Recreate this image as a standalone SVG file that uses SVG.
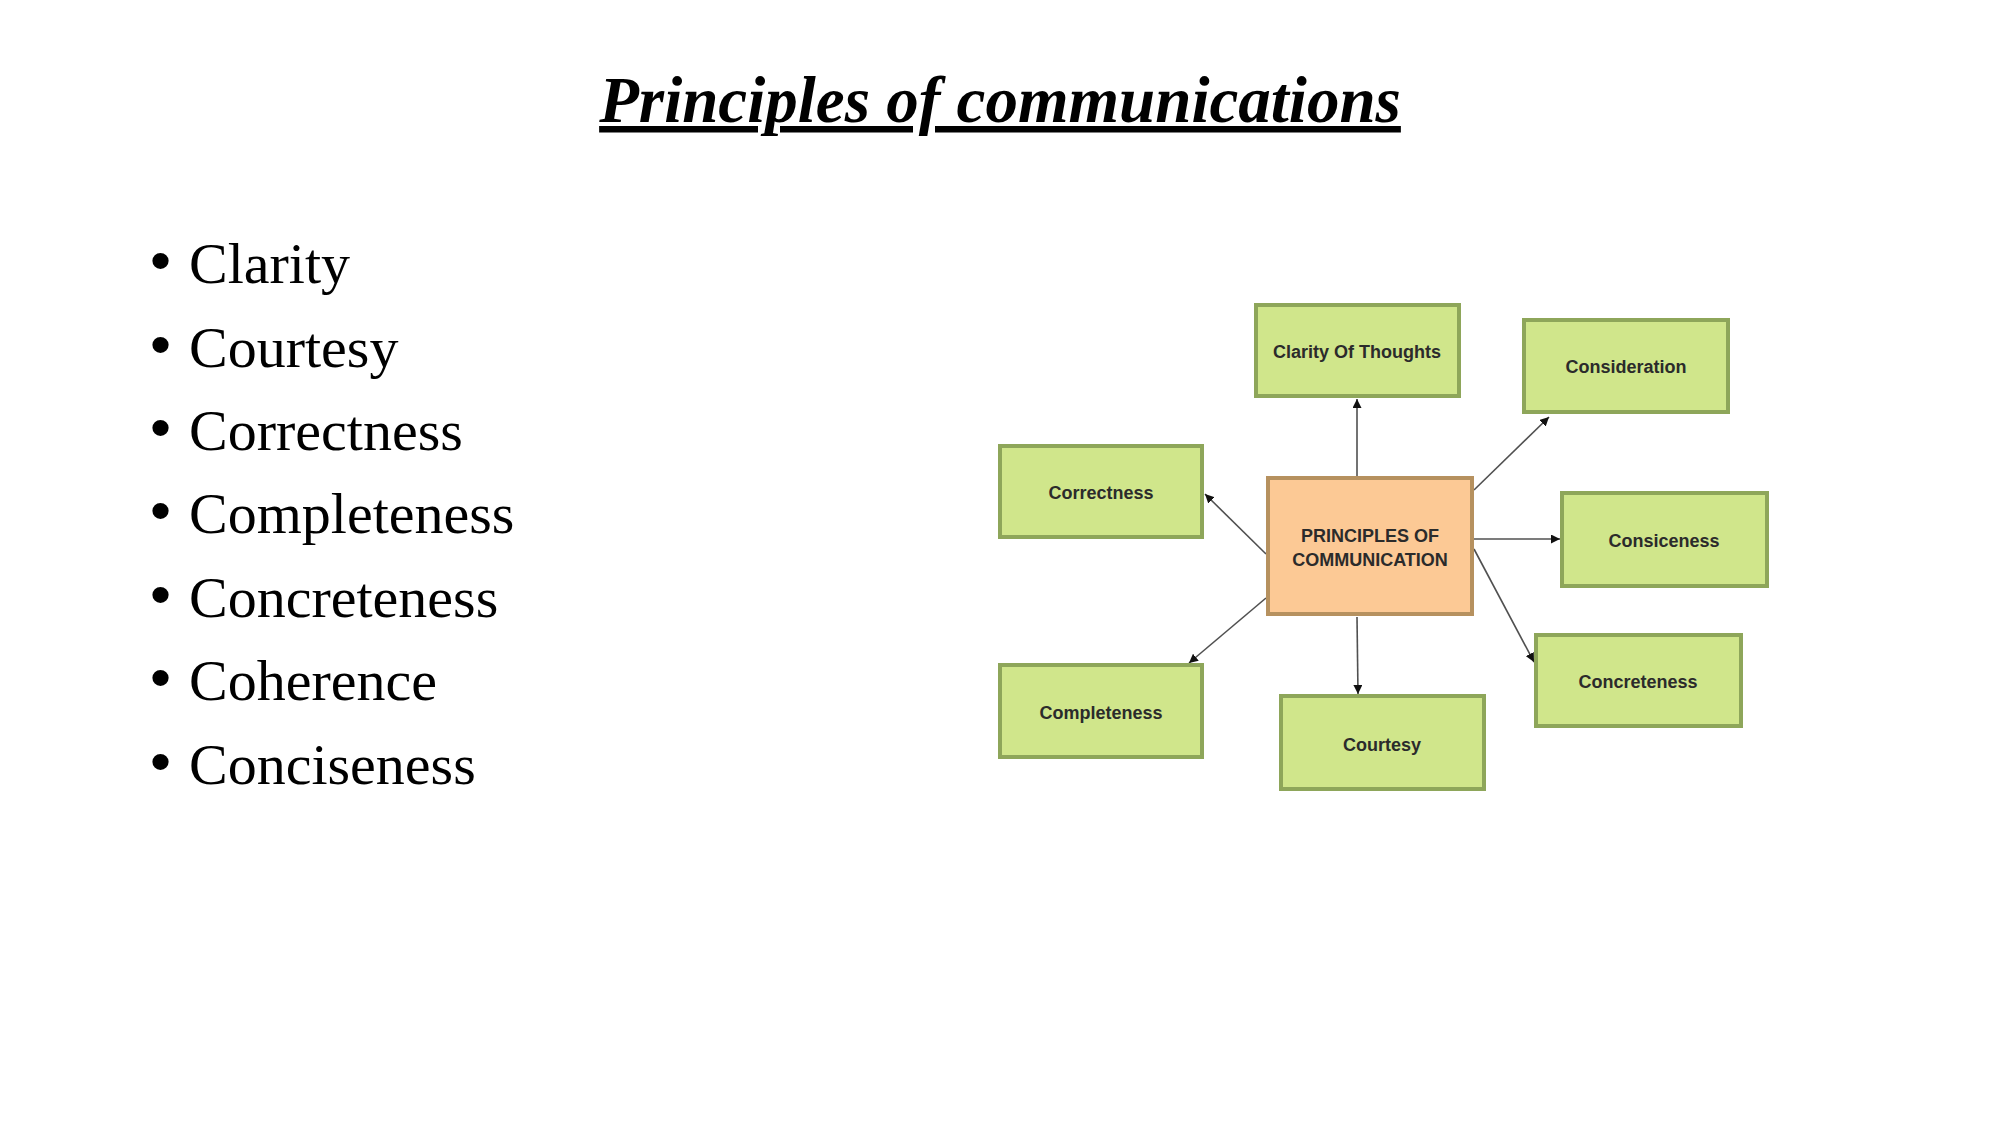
<svg xmlns="http://www.w3.org/2000/svg" width="2001" height="1125" viewBox="0 0 2001 1125">
<defs>
<marker id="arr" viewBox="0 0 10 10" refX="10" refY="5" markerWidth="9" markerHeight="9" markerUnits="userSpaceOnUse" orient="auto">
<path d="M0,0 L10,5 L0,10 Z" fill="#111"/>
</marker>
<style>
.title{font-family:"Liberation Serif",serif;font-weight:bold;font-style:italic;font-size:65px;fill:#000}
.bul{font-family:"Liberation Serif",serif;font-size:58px;fill:#000}
.dot{font-family:"Liberation Sans",Arial,sans-serif;font-size:60px;fill:#000}
.box{fill:#d0e68b;stroke:#8ea65a;stroke-width:4}
.ctr{fill:#fcc995;stroke:#b6915f;stroke-width:4}
.lbl{font-family:"Liberation Sans",Arial,sans-serif;font-weight:bold;font-size:18px;fill:#2b2b2b;text-anchor:middle}
.con{stroke:#505050;stroke-width:1.6;fill:none;marker-end:url(#arr)}
</style>
</defs>
<rect width="2001" height="1125" fill="#fff"/>
<text class="title" x="1000" y="122" text-anchor="middle" text-decoration="underline">Principles of communications</text>
<g id="bullets">
<text class="dot" x="150" y="281">•</text><text class="bul" x="189" y="283">Clarity</text>
<text class="dot" x="150" y="365">•</text><text class="bul" x="189" y="367">Courtesy</text>
<text class="dot" x="150" y="448">•</text><text class="bul" x="189" y="450">Correctness</text>
<text class="dot" x="150" y="531">•</text><text class="bul" x="189" y="533">Completeness</text>
<text class="dot" x="150" y="615">•</text><text class="bul" x="189" y="617">Concreteness</text>
<text class="dot" x="150" y="698">•</text><text class="bul" x="189" y="700">Coherence</text>
<text class="dot" x="150" y="782">•</text><text class="bul" x="189" y="784">Conciseness</text>
</g>
<g id="connectors">
<line class="con" x1="1357" y1="477" x2="1357" y2="399"/>
<line class="con" x1="1474" y1="490" x2="1549" y2="417"/>
<line class="con" x1="1474" y1="539" x2="1560" y2="539"/>
<line class="con" x1="1474" y1="549" x2="1534" y2="662"/>
<line class="con" x1="1357" y1="617" x2="1358" y2="694"/>
<line class="con" x1="1266" y1="598" x2="1189" y2="663"/>
<line class="con" x1="1266" y1="554" x2="1205" y2="494"/>
</g>
<g id="center">
<rect class="ctr" x="1268" y="478" width="204" height="136"/>
<text class="lbl" x="1370" y="542">PRINCIPLES OF</text>
<text class="lbl" x="1370" y="566">COMMUNICATION</text>
</g>
<g id="clarity">
<rect class="box" x="1256" y="305" width="203" height="91"/>
<text class="lbl" x="1357" y="358">Clarity Of Thoughts</text>
</g>
<g id="consideration">
<rect class="box" x="1524" y="320" width="204" height="92"/>
<text class="lbl" x="1626" y="373">Consideration</text>
</g>
<g id="correctness">
<rect class="box" x="1000" y="446" width="202" height="91"/>
<text class="lbl" x="1101" y="499">Correctness</text>
</g>
<g id="consiceness">
<rect class="box" x="1562" y="493" width="205" height="93"/>
<text class="lbl" x="1664" y="547">Consiceness</text>
</g>
<g id="concreteness">
<rect class="box" x="1536" y="635" width="205" height="91"/>
<text class="lbl" x="1638" y="688">Concreteness</text>
</g>
<g id="completeness">
<rect class="box" x="1000" y="665" width="202" height="92"/>
<text class="lbl" x="1101" y="719">Completeness</text>
</g>
<g id="courtesy">
<rect class="box" x="1281" y="696" width="203" height="93"/>
<text class="lbl" x="1382" y="751">Courtesy</text>
</g>
</svg>
